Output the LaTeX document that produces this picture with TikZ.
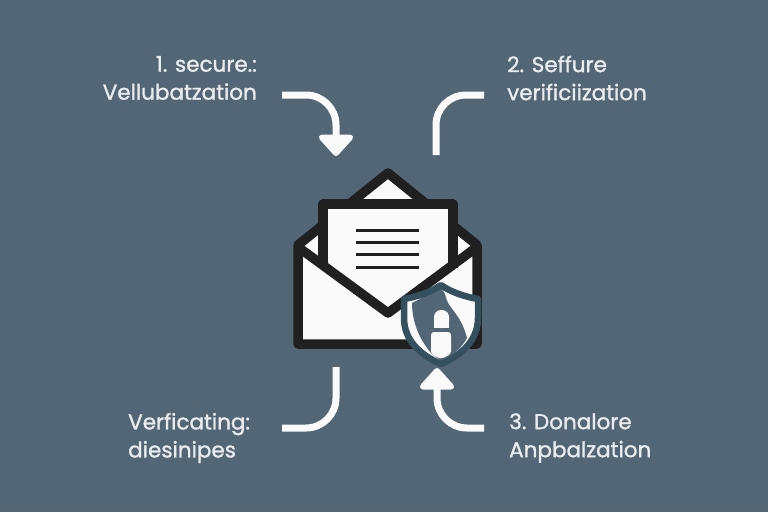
\documentclass[tikz,border=0pt]{standalone}
\usepackage{fontspec}
\setmainfont{Poppins}[FakeBold=1.3]
\usetikzlibrary{arrows.meta}
\definecolor{slatebg}{RGB}{83, 102, 118}
\definecolor{inkblack}{RGB}{32, 32, 33}
\definecolor{paperwhite}{RGB}{250, 250, 250}
\definecolor{shieldblue}{RGB}{52, 80, 95}
\definecolor{labelgrey}{RGB}{232, 236, 238}
\tikzset{
    steplabel/.style={inner sep=0pt, text=labelgrey, font=\fontsize{21.5}{28}\selectfont},
    flowline/.style={draw=paperwhite, line width=7pt, rounded corners=30pt},
    flowhead/.style={-{Triangle[width=40pt,length=23pt,round]}},
    inkline/.style={draw=inkblack, line width=9.5pt, line join=round},
}
\begin{document}
\begin{tikzpicture}[x=1pt, y=-1pt]
                    \fill[slatebg] (0,0) rectangle (768,512);
                    \useasboundingbox (0,0) rectangle (768,512);

                    % Labels
                    \node[steplabel, anchor=east, align=right] (secure) at (257,78) {1. secure.:\\Vellubatzation};
                    \node[steplabel, anchor=west, align=left] (seffure) at (507,78) {2. Seffure\\verificiization};
                    \node[steplabel, anchor=west, align=left] (verficating) at (128,438) {Verficating:\\diesinipes};
                    \node[steplabel, anchor=west, align=left] (donalore) at (509,438) {3. Donalore\\Anpbalzation};

                    % Connector ends
                    \coordinate (secureout) at (282,95);
                    \coordinate (securein) at (336,156);
                    \coordinate (seffureout) at (484,95);
                    \coordinate (seffurein) at (436,155);
                    \coordinate (verfout) at (282,428);
                    \coordinate (verfin) at (336,367);
                    \coordinate (donaout) at (484,428);
                    \coordinate (donain) at (437,368);

                    % Connectors
                    \draw[flowline, flowhead] (secureout) -| (securein);
                    \draw[flowline] (seffureout) -| (seffurein);
                    \draw[flowline] (verfout) -| (verfin);
                    \draw[flowline, flowhead] (donaout) -| (donain);

                    % Envelope back and flap
                    \fill[paperwhite] (298,245) -- (388,173) -- (477,245) -- (477,344) -- (298,344) -- cycle;
                    \draw[inkline] (298,245) -- (388,173) -- (477,245) -- (477,344) -- (298,344) -- cycle;

                    % Letter
                    \fill[paperwhite] (323,204) -- (453,204) -- (453,268) -- (388,313) -- (323,268) -- cycle;
                    \draw[inkline] (323,268) -- (323,204) -- (453,204) -- (453,268);
                    \draw[inkline] (298,247) -- (388,313) -- (477,247);
                    \draw[inkblack, line width=3pt] (356,230) -- (419,230);
                    \draw[inkblack, line width=3pt] (356,242) -- (419,242);
                    \draw[inkblack, line width=3pt] (356,254) -- (419,254);
                    \draw[inkblack, line width=3pt] (356,267) -- (419,267);

                    % Shield
                    \fill[paperwhite] (441,285) .. controls (430,293) and (415,297) .. (404,299) -- (404,318) .. controls (404,340) and (420,355) .. (441,364) .. controls (462,355) and (478,340) .. (478,318) -- (478,299) .. controls (467,297) and (452,293) .. (441,285) -- cycle;
                    \fill[slatebg] (441,288) -- (412,303) .. controls (412,325) and (422,343) .. (432,354) -- (441,361) -- (450,356) .. controls (458,351) and (463,345) .. (467,338) .. controls (463,322) and (456,314) .. (450,306) .. controls (447,302) and (446,298) .. (445,294) -- cycle;
                    \draw[shieldblue, line width=6.5pt, line join=round] (441,285) .. controls (430,293) and (415,297) .. (404,299) -- (404,318) .. controls (404,340) and (420,355) .. (441,364) .. controls (462,355) and (478,340) .. (478,318) -- (478,299) .. controls (467,297) and (452,293) .. (441,285) -- cycle;

                    % Lock
                    \fill[paperwhite, rounded corners=7pt] (434,328) -- (434,310) -- (449,310) -- (449,328) -- cycle;
                    \fill[paperwhite] (434,328) rectangle (449,322);
                    \fill[paperwhite, rounded corners=3pt] (431,354) -- (431,332) -- (451,332) -- (451,354) -- (441,359) -- cycle;
                \end{tikzpicture}
\end{document}
